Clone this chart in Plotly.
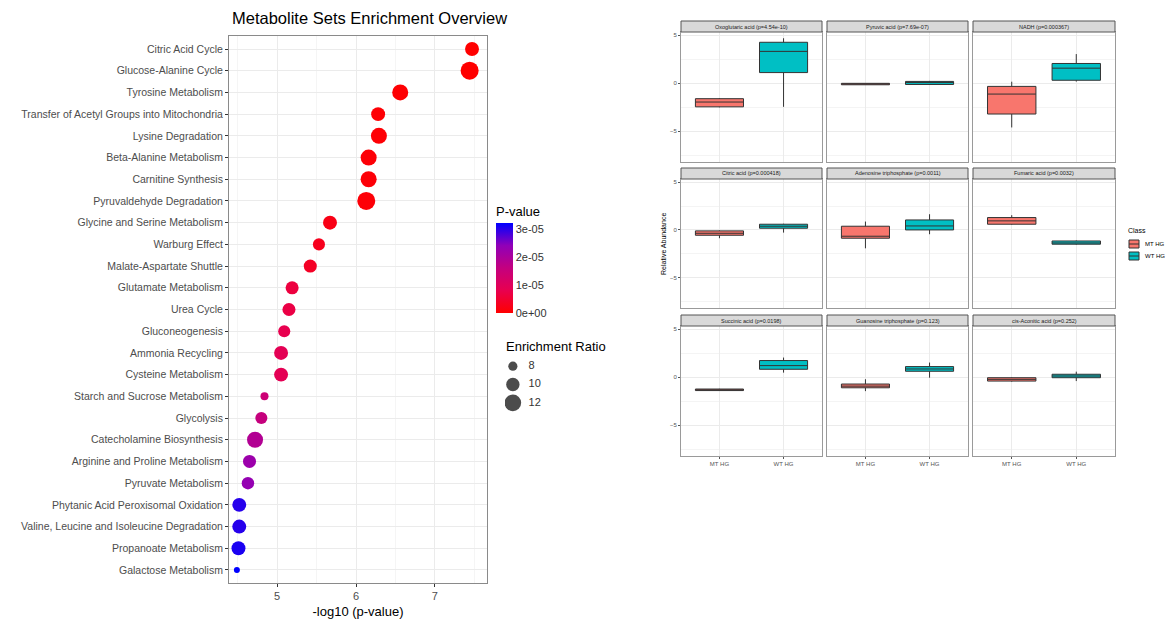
import math
import plotly.graph_objects as go

W, H = 1168, 619

# ---------------- data: enrichment overview ----------------
pathways = ["Citric Acid Cycle", "Glucose-Alanine Cycle", "Tyrosine Metabolism",
            "Transfer of Acetyl Groups into Mitochondria", "Lysine Degradation",
            "Beta-Alanine Metabolism", "Carnitine Synthesis", "Pyruvaldehyde Degradation",
            "Glycine and Serine Metabolism", "Warburg Effect", "Malate-Aspartate Shuttle",
            "Glutamate Metabolism", "Urea Cycle", "Gluconeogenesis", "Ammonia Recycling",
            "Cysteine Metabolism", "Starch and Sucrose Metabolism", "Glycolysis",
            "Catecholamine Biosynthesis", "Arginine and Proline Metabolism",
            "Pyruvate Metabolism", "Phytanic Acid Peroxisomal Oxidation",
            "Valine, Leucine and Isoleucine Degradation", "Propanoate Metabolism",
            "Galactose Metabolism"]
neglog10p = [7.47, 7.44, 6.56, 6.28, 6.29, 6.16, 6.16, 6.13, 5.67, 5.53, 5.42, 5.19,
             5.15, 5.09, 5.05, 5.05, 4.84, 4.80, 4.72, 4.65, 4.63, 4.52, 4.52, 4.51, 4.49]
enrichment = [10.3, 13.0, 11.6, 10.3, 11.6, 11.6, 11.6, 13.0, 10.3, 9.3, 9.8, 9.8,
              9.8, 9.3, 10.3, 10.3, 7.6, 9.3, 11.6, 9.8, 9.5, 10.3, 10.3, 10.3, 7.0]
pvalues = [10 ** (-v) for v in neglog10p]
pv_ticks = [0, 1e-05, 2e-05, 3e-05]
pv_ticktext = ["0e+00", "1e-05", "2e-05", "3e-05"]
size_breaks = [8, 10, 12]

# ---------------- data: box plots ----------------
metabolites = ["Oxoglutaric acid", "Pyruvic acid", "NADH", "Citric acid",
               "Adenosine triphosphate", "Fumaric acid", "Succinic acid",
               "Guanosine triphosphate", "cis-Aconitic acid"]
met_p = ["4.54e-10", "7.69e-07", "0.000367", "0.000418", "0.0011", "0.0032",
         "0.0198", "0.123", "0.252"]
classes = ["MT HG", "WT HG"]
# (lower whisker, q1, median, q3, upper whisker)
mt_stats = [(-2.50, -2.45, -1.95, -1.60, -1.55),
            (-0.15, -0.15, -0.07, 0.00, 0.00),
            (-4.60, -3.20, -1.12, -0.32, 0.17),
            (-0.87, -0.56, -0.35, -0.10, -0.05),
            (-1.93, -0.87, -0.66, 0.39, 0.88),
            (0.55, 0.60, 0.95, 1.30, 1.55),
            (-1.40, -1.38, -1.30, -1.22, -1.20),
            (-1.44, -1.09, -0.92, -0.70, -0.20),
            (-0.45, -0.39, -0.21, -0.04, 0.00)]
wt_stats = [(-2.45, 1.12, 3.33, 4.28, 4.70),
            (-0.15, -0.12, 0.08, 0.20, 0.25),
            (0.18, 0.32, 1.58, 2.07, 3.05),
            (-0.28, 0.18, 0.39, 0.60, 0.65),
            (-0.45, 0.00, 0.42, 1.05, 1.65),
            (-1.55, -1.50, -1.37, -1.16, -1.10),
            (0.49, 0.84, 1.22, 1.75, 2.06),
            (-0.04, 0.63, 0.87, 1.12, 1.54),
            (-0.39, -0.04, 0.14, 0.32, 0.59)]
class_colors = ["#F8766D", "#00BFC4"]

FONT = "Liberation Sans, Arial, sans-serif"

def px_x(p):
    return p / W

def px_y(p):
    return 1 - p / H

# size scale (area-proportional, like ggplot scale_size)
dmin, dmax = 6.0, 18.0
emin, emax = min(enrichment), max(enrichment)

def dia(v):
    t = (v - emin) / (emax - emin)
    return math.sqrt(dmin ** 2 + t * (dmax ** 2 - dmin ** 2))

colorscale = [[0.0, "#FF0000"], [0.25, "#E8004F"], [0.5, "#C4007F"],
              [0.75, "#9000B8"], [1.0, "#0000FF"]]

fig = go.Figure()

fig.add_trace(go.Scatter(
    x=neglog10p, y=pathways, mode="markers", xaxis="x", yaxis="y",
    marker=dict(size=[dia(v) for v in enrichment], color=pvalues, opacity=1,
                colorscale=colorscale, cmin=0, cmax=max(pvalues),
                line=dict(width=0),
                colorbar=dict(title=dict(text="P-value", side="top",
                                         font=dict(size=13, family=FONT, color="#000")),
                              x=px_x(496), xanchor="left", xpad=0,
                              y=px_y(203), yanchor="top", ypad=0,
                              len=110, lenmode="pixels", thickness=17,
                              thicknessmode="pixels", outlinewidth=0,
                              tickvals=pv_ticks, ticktext=pv_ticktext, ticks="",
                              tickfont=dict(size=11, family=FONT, color="#333"))),
    showlegend=False, hoverinfo="x+y"))

# size legend (drawn on its own small axes)
fig.add_trace(go.Scatter(
    x=[0] * len(size_breaks), y=[str(b) for b in size_breaks], mode="markers",
    xaxis="x2", yaxis="y2",
    marker=dict(size=[dia(b) for b in size_breaks], color="black", line=dict(width=0)),
    showlegend=False, hoverinfo="skip"))
fig.add_trace(go.Scatter(
    x=[1] * len(size_breaks), y=[str(b) for b in size_breaks], mode="text",
    xaxis="x2", yaxis="y2", text=[str(b) for b in size_breaks],
    textposition="middle right", textfont=dict(size=11, family=FONT, color="#333"),
    showlegend=False, hoverinfo="skip"))

# facet boxes
col_px = [(681, 822), (827, 968), (973, 1115)]
row_px = [(32, 162), (179, 308), (326, 456)]
layout_axes = {}
shapes = []
annotations = []
for i, met in enumerate(metabolites):
    r, c = divmod(i, 3)
    ax = i + 3
    xa, ya = f"x{ax}", f"y{ax}"
    for k, (cls, stats) in enumerate(zip(classes, [mt_stats[i], wt_stats[i]])):
        lo, q1, med, q3, hi = stats
        fig.add_trace(go.Box(
            x=[cls], q1=[q1], median=[med], q3=[q3], lowerfence=[lo], upperfence=[hi],
            xaxis=xa, yaxis=ya, name=cls, showlegend=False,
            fillcolor=class_colors[k], line=dict(color="#333333", width=1),
            whiskerwidth=0, width=0.75, boxpoints=False, hoverinfo="y"))
    x0, x1 = col_px[c]
    y0, y1 = row_px[r]
    layout_axes[f"xaxis{ax}"] = dict(
        domain=[px_x(x0), px_x(x1)], anchor=ya, type="category",
        categoryorder="array", categoryarray=classes, range=[-0.6, 1.6],
        showticklabels=(r == 2), ticks="outside" if r == 2 else "", ticklen=2,
        tickcolor="#555", tickfont=dict(size=6, family=FONT, color="#555"),
        showgrid=True, gridcolor="#EBEBEB", gridwidth=1,
        showline=True, mirror=True, linecolor="#9A9A9A", linewidth=1, zeroline=False)
    layout_axes[f"yaxis{ax}"] = dict(
        domain=[px_y(y1), px_y(y0)], anchor=xa, range=[-8.2, 5.35],
        tickvals=[-5, 0, 5], showticklabels=(c == 0),
        ticks="outside" if c == 0 else "", ticklen=2, tickcolor="#555",
        tickfont=dict(size=6, family=FONT, color="#555"),
        showgrid=True, gridcolor="#EBEBEB", gridwidth=1,
        minor=dict(dtick=2.5, tick0=0, showgrid=True, gridcolor="#F4F4F4", ticks=""),
        showline=True, mirror=True, linecolor="#9A9A9A", linewidth=1, zeroline=False)
    # strip
    shapes.append(dict(type="rect", xref="paper", yref="paper",
                       x0=px_x(x0), x1=px_x(x1), y0=px_y(y0), y1=px_y(y0 - 11),
                       fillcolor="#D9D9D9", line=dict(color="#555555", width=1)))
    annotations.append(dict(text=f"{met} (p={met_p[i]})", xref="paper", yref="paper",
                            x=px_x((x0 + x1) / 2), y=px_y(y0 - 5.5), showarrow=False,
                            xanchor="center", yanchor="middle",
                            font=dict(size=5.5, family=FONT, color="#1A1A1A")))

# Class legend (manual keys)
annotations.append(dict(text="Class", xref="paper", yref="paper",
                        x=px_x(1126), y=px_y(230), showarrow=False,
                        xanchor="left", yanchor="middle",
                        font=dict(size=7, family=FONT, color="#000")))
for k, cls in enumerate(classes):
    ky = 240 + 12 * k
    shapes.append(dict(type="rect", xref="paper", yref="paper",
                       x0=px_x(1129), x1=px_x(1139), y0=px_y(ky + 8), y1=px_y(ky),
                       fillcolor=class_colors[k], line=dict(color="#333333", width=1)))
    shapes.append(dict(type="line", xref="paper", yref="paper",
                       x0=px_x(1129), x1=px_x(1139), y0=px_y(ky + 4), y1=px_y(ky + 4),
                       line=dict(color="#333333", width=1)))
    annotations.append(dict(text=cls, xref="paper", yref="paper",
                            x=px_x(1143), y=px_y(ky + 4), showarrow=False,
                            xanchor="left", yanchor="middle",
                            font=dict(size=6, family=FONT, color="#000")))

annotations.append(dict(text="Relative Abundance", xref="paper", yref="paper",
                        x=px_x(663), y=px_y(244), textangle=-90, showarrow=False,
                        xanchor="center", yanchor="middle",
                        font=dict(size=7, family=FONT, color="#000")))
annotations.append(dict(text="Metabolite Sets Enrichment Overview", xref="paper",
                        yref="paper", x=px_x(369), y=px_y(18), showarrow=False,
                        xanchor="center", yanchor="middle",
                        font=dict(size=16.5, family=FONT, color="#000")))
annotations.append(dict(text="Enrichment Ratio", xref="paper", yref="paper",
                        x=px_x(504), y=px_y(347), showarrow=False,
                        xanchor="left", yanchor="middle",
                        font=dict(size=13, family=FONT, color="#000")))

fig.update_layout(
    width=W, height=H, margin=dict(l=0, r=0, t=0, b=0),
    paper_bgcolor="white", plot_bgcolor="white",
    font=dict(family=FONT), showlegend=False,
    xaxis=dict(domain=[px_x(229), px_x(487)], anchor="y", range=[4.39, 7.66],
               tickvals=[5, 6, 7], ticks="outside", ticklen=3, tickcolor="#333",
               tickfont=dict(size=11, family=FONT, color="#4D4D4D"),
               title=dict(text="-log10 (p-value)", standoff=6,
                          font=dict(size=13, family=FONT, color="#000")),
               showgrid=True, gridcolor="#EBEBEB",
               minor=dict(dtick=0.5, tick0=0, showgrid=True, gridcolor="#F5F5F5", ticks=""),
               showline=True, mirror=True, linecolor="#8A8A8A", linewidth=1, zeroline=False),
    yaxis=dict(domain=[px_y(583), px_y(36)], anchor="x", type="category",
               categoryorder="array", categoryarray=pathways[::-1],
               range=[-0.6, len(pathways) - 0.4],
               ticks="outside", ticklen=3, tickcolor="#333",
               tickfont=dict(size=10.5, family=FONT, color="#4D4D4D"),
               showgrid=True, gridcolor="#EBEBEB",
               showline=True, mirror=True, linecolor="#8A8A8A", linewidth=1, zeroline=False),
    xaxis2=dict(domain=[px_x(505), px_x(560)], anchor="y2", range=[-0.5, 3],
                visible=False, fixedrange=True),
    yaxis2=dict(domain=[px_y(412), px_y(357)], anchor="x2", type="category",
                categoryorder="array", categoryarray=[str(b) for b in size_breaks],
                range=[2.5, -0.5], visible=False, fixedrange=True),
    shapes=shapes, annotations=annotations,
    **layout_axes)

fig.write_html("out.html", config={"displayModeBar": False},
               post_script="document.body.style.margin='0';"
                           "document.body.style.overflow='hidden';")
